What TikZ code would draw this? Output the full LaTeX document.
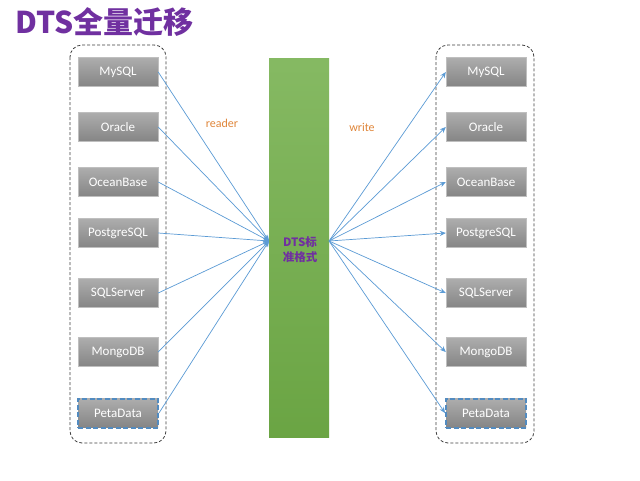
\documentclass[tikz,border=0pt]{standalone}
\usepackage{fontspec}
\setmainfont{Carlito}
\newfontfamily\cjk{Noto Sans CJK SC}
\usetikzlibrary{arrows.meta}
\definecolor{dtspurple}{HTML}{7030A0}
\definecolor{dtsgreen}{HTML}{70AD47}
\definecolor{dtsblue}{HTML}{5B9BD5}
\definecolor{dtsorange}{HTML}{E0863A}
\tikzset{
  dbbox/.style={rectangle, minimum width=80pt, minimum height=29pt,
    top color=black!32, bottom color=black!48, draw=black!25, line width=0.4pt,
    text=white, font=\fontsize{13}{15}\selectfont, inner sep=0pt},
  newbox/.style={dbbox, draw=dtsblue!90!black, line width=2pt, dash pattern=on 5pt off 2.5pt},
  group/.style={draw=black!75, dash pattern=on 3pt off 2pt, rounded corners=12pt, line width=0.8pt},
  flow/.style={draw=dtsblue, line width=0.7pt, -{Stealth[length=6pt,width=5pt]}},
}
\begin{document}
\begin{tikzpicture}[x=1pt,y=-1pt]
  \useasboundingbox[fill=white] (0,0) rectangle (640,480);
  \node[anchor=west, text=dtspurple, font=\cjk\bfseries\fontsize{30}{34}\selectfont, inner sep=0pt] (title) at (15,22) {DTS全量迁移};
  % source and target groups
  \draw[group] (70,45) rectangle (166,443);
  \draw[group] (436,45) rectangle (534,443);
  % middle format
  \node[rectangle, minimum width=60pt, minimum height=379pt, inner sep=0pt,
    top color=dtsgreen!85!white, bottom color=dtsgreen!95!black] (fmt) at (299,247.5) {};
  \node[text=dtspurple, font=\cjk\bfseries\fontsize{11.5}{15}\selectfont, align=center] (fmtlabel) at (300,250) {DTS标\\准格式};
  \coordinate (in) at (269,241);
  \coordinate (out) at (329,241);
  \foreach \i/\name/\y in {1/MySQL/72, 2/Oracle/127, 3/OceanBase/182, 4/PostgreSQL/233, 5/SQLServer/293, 6/MongoDB/352}{
    \node[dbbox] (L\i) at (118,\y) {\name};
    \node[dbbox] (R\i) at (486,\y) {\name};
  }
  \node[newbox] (L7) at (118,413) {PetaData};
  \node[newbox] (R7) at (486,413) {PetaData};
  \foreach \i in {1,...,7}{
    \draw[flow] (L\i.east) -- (in);
    \draw[flow] (out) -- (R\i.west);
  }
  \node[text=dtsorange, font=\fontsize{12}{14}\selectfont] (reader) at (222,123) {reader};
  \node[text=dtsorange, font=\fontsize{12}{14}\selectfont] (write) at (362,127) {write};
\end{tikzpicture}
\end{document}
